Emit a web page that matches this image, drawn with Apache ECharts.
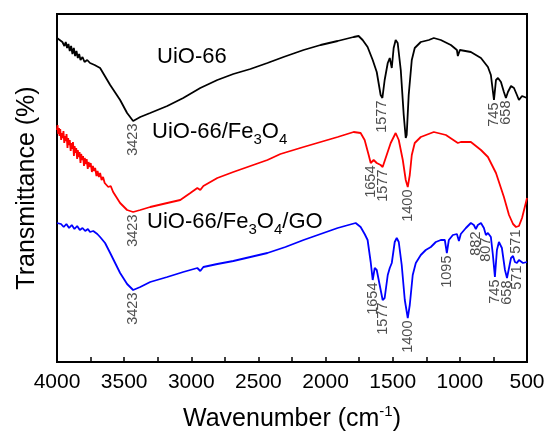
<!DOCTYPE html>
<html>
<head>
<meta charset="utf-8">
<script src="https://cdn.jsdelivr.net/npm/echarts@6/dist/echarts.min.js"></script>
<style>
html,body{margin:0;padding:0;background:#fff;}
#chart{width:547px;height:431px;}
</style>
</head>
<body>
<div id="chart"></div>
<script>
// [wavenumber (cm-1), transmittance (arbitrary, offset)]
const uio66 = [
  [4000,324],[3980,322],[3960,320],[3945,316],[3935,320],[3925,314],[3915,318],[3905,311],[3895,316],
  [3885,308],[3875,314],[3865,306],[3855,311],[3845,304],[3835,308],[3825,302],[3810,305],[3795,300],
  [3775,302],[3754,299],[3720,297],[3679,294],[3604,277],[3530,262],[3478,249],[3433,241],[3380,245],
  [3306,249],[3179,256],[3060,264],[2933,274],[2806,282],[2687,288],[2560,293],[2433,299],[2313,305],
  [2164,312],[2037,317],[1910,321],[1791,325],[1754,326],[1724,322],[1687,315],[1649,302],[1619,290],
  [1590,267],[1577,264],[1560,282],[1537,299],[1522,304],[1507,294],[1493,314],[1478,322],[1463,319],
  [1440,292],[1418,247],[1403,224],[1396,227],[1381,267],[1358,302],[1336,314],[1291,320],[1231,322],
  [1194,324],[1142,322],[1067,317],[1022,312],[1015,306],[1000,312],[918,310],[843,304],[791,295],
  [769,287],[746,262],[731,282],[716,284],[694,280],[672,270],[657,264],[642,270],[619,276],[597,274],
  [575,267],[560,262],[537,266],[500,264]
];
const uio66Fe3O4 = [
  [4000,232],[3996,237],[3991,228],[3985,234],[3981,226],[3976,233],[3969,222],[3964,229],[3958,224],
  [3952,231],[3946,219],[3941,226],[3934,221],[3929,228],[3922,214],[3917,224],[3911,217],[3905,222],
  [3898,211],[3893,219],[3887,213],[3881,220],[3874,206],[3869,216],[3862,209],[3857,214],[3850,203],
  [3845,212],[3838,205],[3832,210],[3825,199],[3820,208],[3812,202],[3806,206],[3799,196],[3793,204],
  [3786,198],[3779,203],[3771,193],[3765,200],[3757,195],[3749,199],[3740,190],[3733,196],[3724,191],
  [3716,194],[3706,186],[3698,191],[3688,185],[3679,189],[3668,182],[3657,185],[3645,179],[3632,181],
  [3618,175],[3600,176],[3582,170],[3530,159],[3478,152],
  [3433,150],[3380,152],[3306,155],[3179,159],[3082,162],[3007,169],[2955,174],[2933,172],[2910,176],
  [2806,184],[2687,190],[2560,196],[2433,202],[2336,208],[2164,215],[2037,220],[1910,225],[1791,230],
  [1739,229],[1709,222],[1679,207],[1664,199],[1642,202],[1619,199],[1590,197],[1575,195],[1545,207],
  [1515,219],[1478,229],[1455,222],[1425,202],[1403,182],[1388,175],[1373,187],[1358,207],[1336,219],
  [1291,225],[1194,230],[1104,227],[1015,219],[993,220],[918,220],[843,212],[791,205],[731,189],
  [672,165],[634,147],[604,138],[582,135],[560,136],[537,144],[507,160],[500,164]
];
const uio66Fe3O4GO = [
  [4000,139],[3970,138],[3950,135],[3930,138],[3910,134],[3890,137],[3870,133],[3850,136],[3830,132],
  [3810,134],[3790,131],[3770,133],[3754,130],[3730,131],[3700,128],[3679,125],[3642,119],[3604,109],
  [3567,99],[3530,89],[3478,78],[3433,72],[3380,75],[3306,80],[3179,85],[3060,90],[2955,94],[2933,91],
  [2910,95],[2806,98],[2687,101],[2560,105],[2433,109],[2299,115],[2164,122],[2037,128],[1910,134],
  [1776,139],[1739,135],[1709,128],[1687,122],[1664,100],[1649,82],[1634,94],[1619,92],[1597,77],
  [1575,62],[1560,64],[1537,87],[1522,94],[1507,99],[1485,120],[1470,124],[1455,120],[1433,97],
  [1410,62],[1388,44],[1373,57],[1351,87],[1328,99],[1291,107],[1254,112],[1216,115],[1179,120],
  [1142,122],[1112,122],[1097,109],[1082,122],[1052,127],[1022,128],[1007,121],[993,128],[955,134],
  [918,139],[896,137],[881,133],[866,137],[843,139],[821,134],[806,127],[791,129],[769,125],[754,107],
  [739,85],[724,112],[709,120],[687,114],[664,92],[649,84],[634,94],[619,104],[604,106],[590,100],
  [575,99],[560,102],[530,99],[500,100]
];

const uio66Peaks = [3423, 1577, 745, 658];
const uio66Fe3O4Peaks = [3423, 1654, 1577, 1400, 571];
const uio66Fe3O4GOPeaks = [3423, 1654, 1577, 1400, 1095, 882, 807, 745, 658, 571];

const seriesNames = ['UiO-66', 'UiO-66/Fe3O4', 'UiO-66/Fe3O4/GO'];
const seriesColors = ['#000000', '#ff0000', '#0000ff'];
const xTicks = { min: 500, max: 4000, interval: 500 };

function peakPoints(data, peaks) {
  return peaks.map(function (p) {
    let best = null;
    data.forEach(function (d) {
      if (Math.abs(d[0] - p) <= 25 && (best === null || d[1] < best[1])) best = d;
    });
    return { value: [best[0], best[1]], name: String(p) };
  });
}

const font = 'Liberation Sans, Arial, sans-serif';

function annot(data, peaks) {
  return {
    type: 'scatter',
    data: peakPoints(data, peaks),
    symbolSize: 1,
    itemStyle: { color: 'transparent' },
    silent: true,
    z: 5,
    label: {
      show: true,
      formatter: function (p) { return p.name; },
      position: 'bottom',
      distance: 2,
      rotate: 90,
      align: 'right',
      verticalAlign: 'middle',
      fontFamily: font,
      fontSize: 14.5,
      color: '#222'
    }
  };
}

const chart = echarts.init(document.getElementById('chart'));
const nameRich = {
  n: { fontFamily: font, fontSize: 22, lineHeight: 30, color: '#000' },
  s: { fontFamily: font, fontSize: 15, lineHeight: 15, verticalAlign: 'bottom', color: '#000' }
};

chart.setOption({
  animation: false,
  backgroundColor: '#fff',
  grid: { left: 57, right: 20, top: 14, bottom: 69, show: true, borderColor: '#000', borderWidth: 2, containLabel: false, outerBoundsMode: 'none' },
  xAxis: {
    type: 'value',
    inverse: true,
    min: xTicks.min, max: xTicks.max, interval: xTicks.interval,
    name: '{n|Wavenumber (cm}{p|-1}{n|)}',
    nameLocation: 'middle',
    nameGap: 42,
    nameTextStyle: {
      rich: {
        n: { fontFamily: font, fontSize: 25, color: '#000', lineHeight: 30 },
        p: { fontFamily: font, fontSize: 15, color: '#000', verticalAlign: 'top', lineHeight: 15 }
      }
    },
    axisLine: { lineStyle: { color: '#000', width: 2 } },
    axisTick: { inside: true, length: 5, lineStyle: { color: '#000', width: 1.5 } },
    minorTick: { show: true, splitNumber: 2, length: 5, lineStyle: { color: '#000', width: 1.5 } },
    axisLabel: { fontFamily: font, fontSize: 21, color: '#000', margin: 10, formatter: function (v) { return String(v); } },
    splitLine: { show: false }
  },
  yAxis: {
    type: 'value',
    min: 0, max: 348,
    name: 'Transmittance (%)',
    nameLocation: 'middle',
    nameGap: 17,
    nameTextStyle: { fontFamily: font, fontSize: 25, color: '#000' },
    axisLine: { show: true, lineStyle: { color: '#000', width: 2 } },
    axisTick: { show: false },
    axisLabel: { show: false },
    splitLine: { show: false }
  },
  graphic: [
    { type: 'text', left: 157, top: 46, style: { text: '{n|UiO-66}', rich: nameRich } },
    { type: 'text', left: 152, top: 121, style: { text: '{n|UiO-66/Fe}{s|3}{n|O}{s|4}', rich: nameRich } },
    { type: 'text', left: 147, top: 211, style: { text: '{n|UiO-66/Fe}{s|3}{n|O}{s|4}{n|/GO}', rich: nameRich } }
  ],
  series: [
    { name: seriesNames[0], type: 'line', data: uio66, showSymbol: false, lineStyle: { color: seriesColors[0], width: 1.8 }, itemStyle: { color: seriesColors[0] } },
    { name: seriesNames[1], type: 'line', data: uio66Fe3O4, showSymbol: false, lineStyle: { color: seriesColors[1], width: 1.8 }, itemStyle: { color: seriesColors[1] } },
    { name: seriesNames[2], type: 'line', data: uio66Fe3O4GO, showSymbol: false, lineStyle: { color: seriesColors[2], width: 1.8 }, itemStyle: { color: seriesColors[2] } },
    annot(uio66, uio66Peaks),
    annot(uio66Fe3O4, uio66Fe3O4Peaks),
    annot(uio66Fe3O4GO, uio66Fe3O4GOPeaks)
  ]
});
</script>
</body>
</html>
